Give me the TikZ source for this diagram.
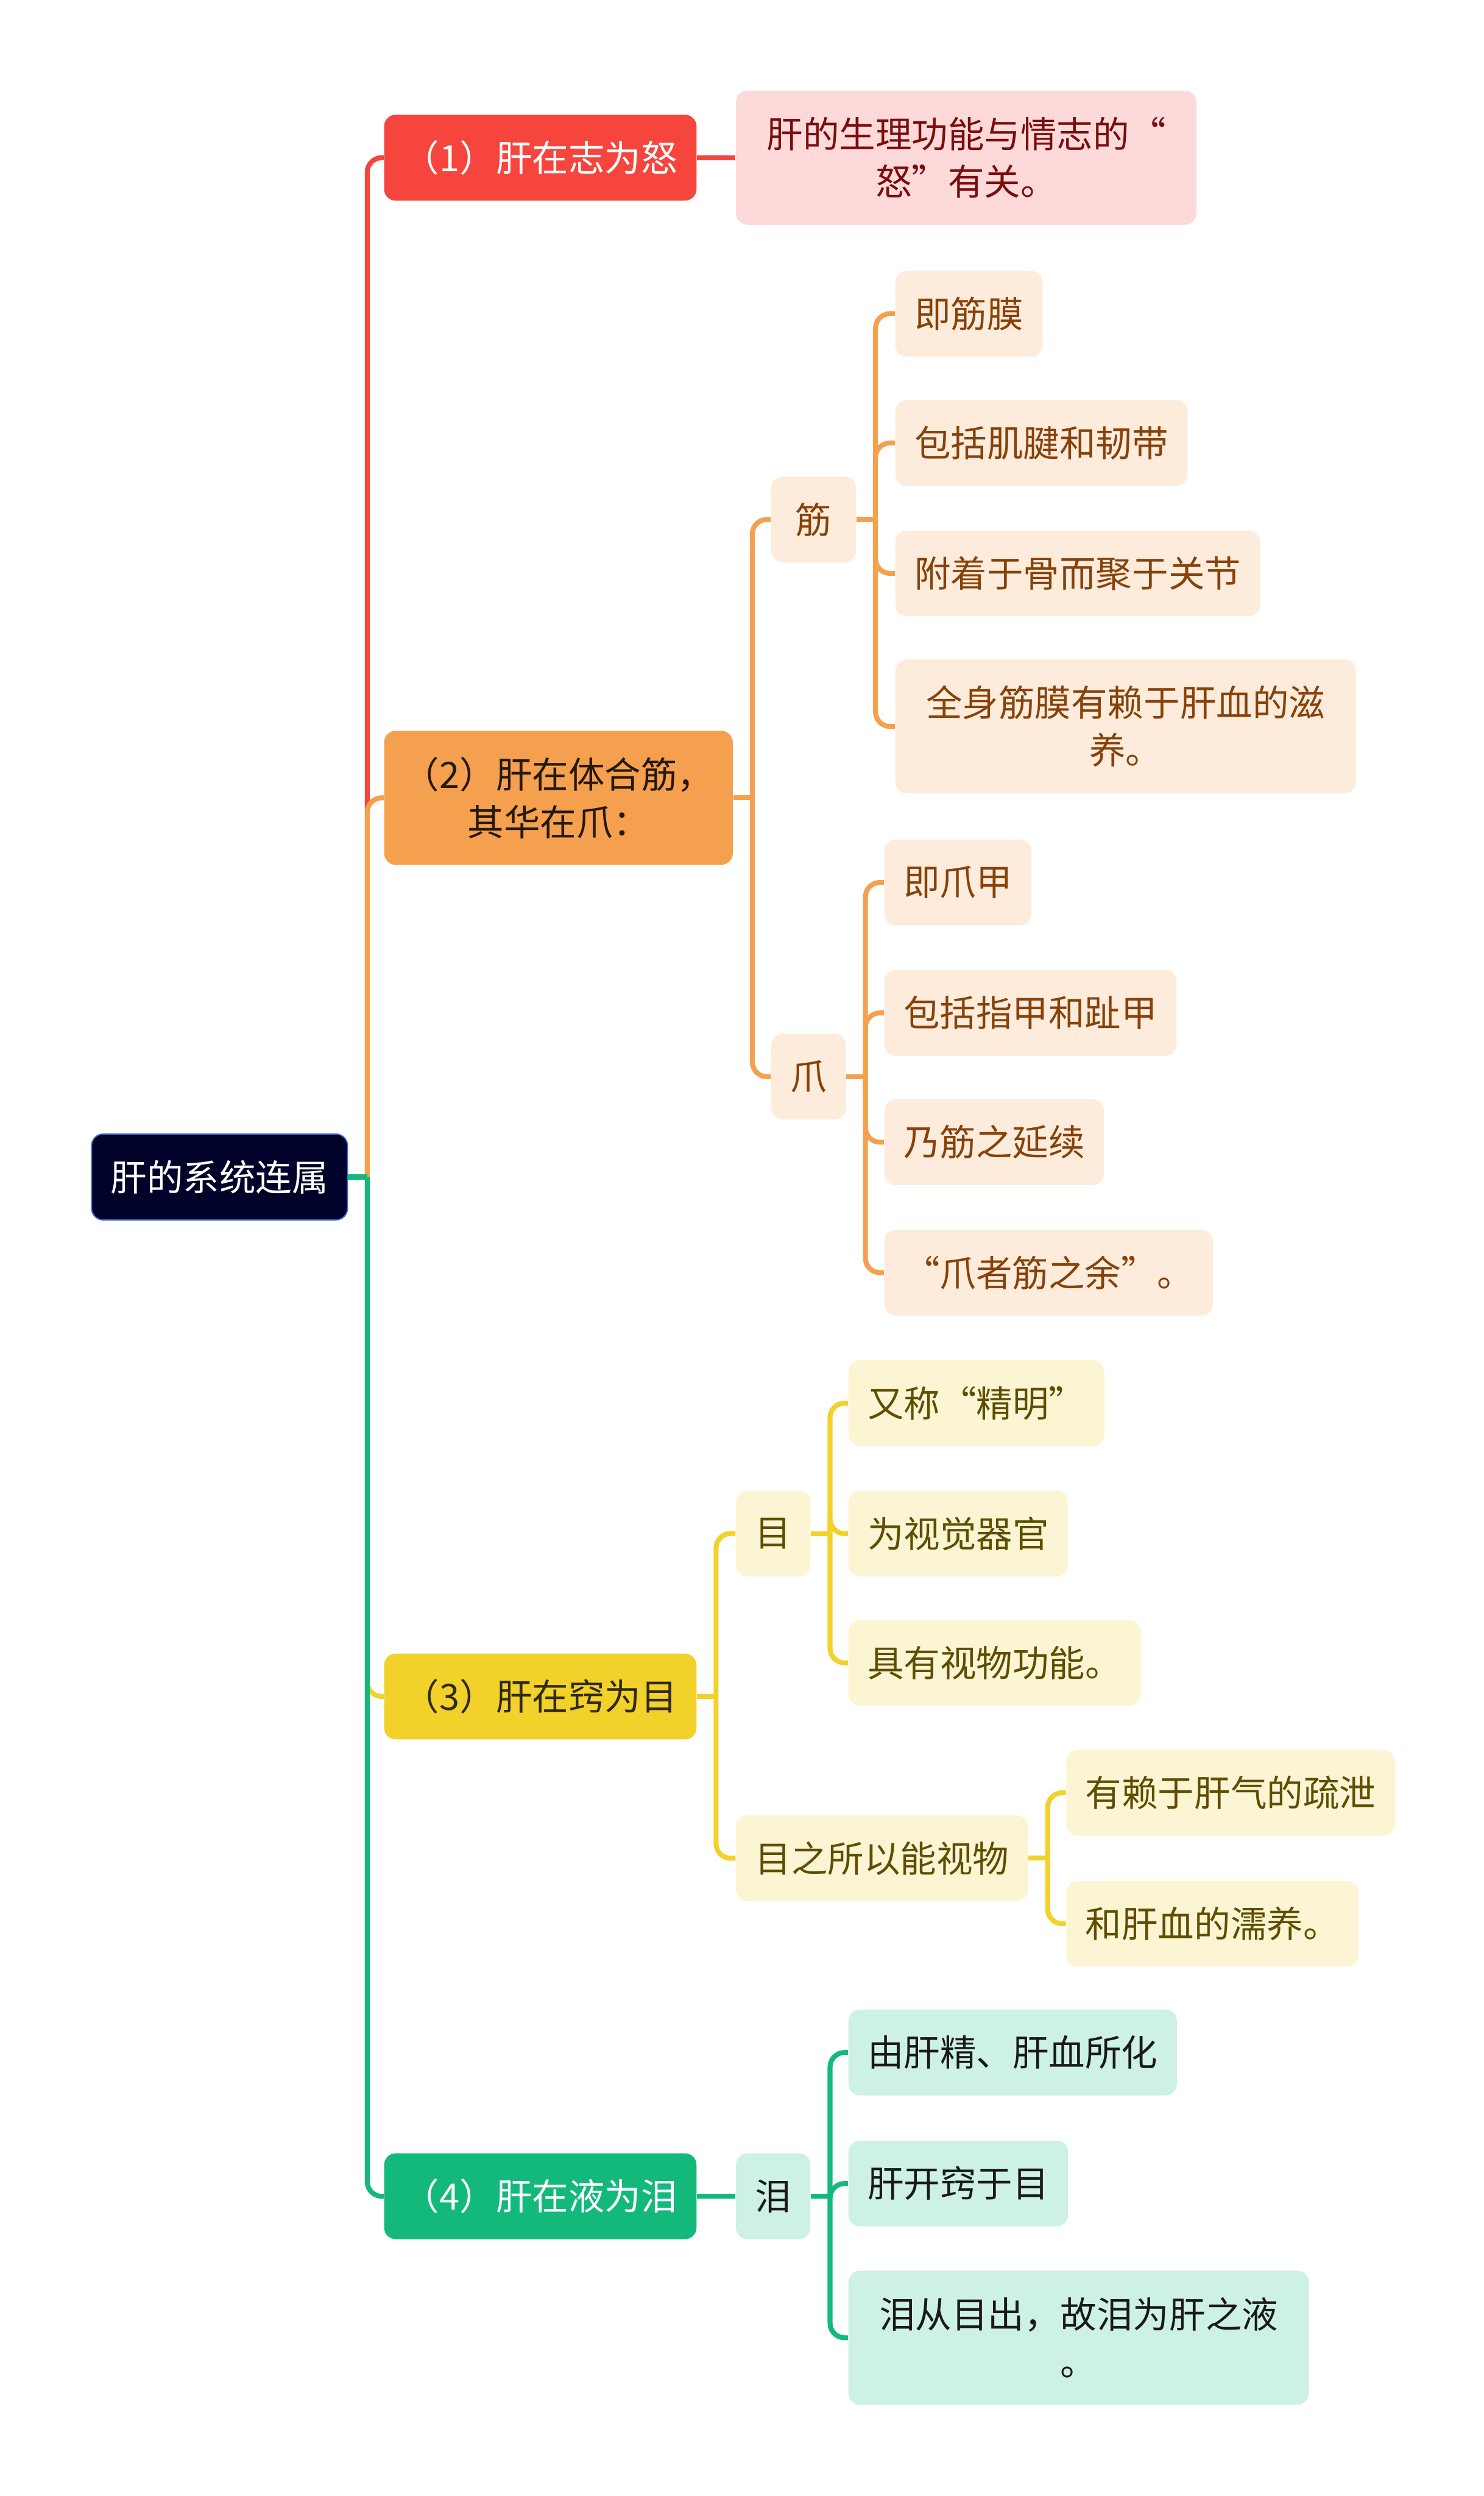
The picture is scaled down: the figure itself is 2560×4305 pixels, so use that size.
\documentclass[tikz,border=0pt]{standalone}
\usepackage{fontspec}
\setmainfont{Noto Sans CJK SC}
\usepackage{tikz}

\definecolor{rootnavy}{HTML}{000229}
\definecolor{rootblue}{HTML}{3A6FD0}
\definecolor{redmain}{HTML}{F5453D}
\definecolor{redleaf}{HTML}{FDD9D9}
\definecolor{redtext}{HTML}{7A0D0D}
\definecolor{orangemain}{HTML}{F4A04F}
\definecolor{orangeleaf}{HTML}{FDEBDB}
\definecolor{orangetext}{HTML}{87420A}
\definecolor{yellowmain}{HTML}{F2D12A}
\definecolor{yellowleaf}{HTML}{FCF5D4}
\definecolor{yellowtext}{HTML}{5E4E00}
\definecolor{greenmain}{HTML}{12B97B}
\definecolor{greenleaf}{HTML}{CDF1E2}

\begin{document}
\begin{tikzpicture}[x=0.01cm, y=-0.01cm,
  every node/.style={font=\fontsize{17.8pt}{23.3pt}\selectfont},
  box/.style={rectangle, rounded corners=0.2cm, anchor=west, align=center,
    inner xsep=0.33cm, inner ysep=0.1cm, minimum height=1.48cm},
  tall/.style={minimum height=2.31cm},
  wide/.style={tall, minimum width=7.94cm},
  rootbox/.style={box, fill=rootnavy, draw=rootblue, line width=0.02cm, text=white},
  redbox/.style={box, fill=redleaf, text=redtext},
  orangebox/.style={box, fill=orangeleaf, text=orangetext},
  yellowbox/.style={box, fill=yellowleaf, text=yellowtext},
  greenbox/.style={box, fill=greenleaf, text=black!90},
  link/.style={line width=0.085cm},
  elbow/.style={link, rounded corners=0.25cm}]
  \useasboundingbox (0,0) rectangle (2560,4305);

  % Root
  \node[rootbox] (root) at (157,2030) {肝的系统连属};

  % Main branches
  \node[box, fill=redmain, text=white] (n1) at (662,272) {（1）肝在志为怒};
  \node[box, tall, fill=orangemain, text=black!85!orangemain] (n2) at (662,1376) {（2）肝在体合筋，\\其华在爪：};
  \node[box, fill=yellowmain, text=black!80!yellowmain] (n3) at (662,2926) {（3）肝在窍为目};
  \node[box, fill=greenmain, text=white] (n4) at (662,3788) {（4）肝在液为泪};

  % (1)
  \node[redbox, wide] (nu) at (1269,272) {肝的生理功能与情志的“\\怒”有关。};

  % (2) jin and zhua
  \node[orangebox, minimum width=1.46cm] (jin) at (1330,896) {筋};
  \node[orangebox] (jin1) at (1544,541) {即筋膜};
  \node[orangebox] (jin2) at (1544,764) {包括肌腱和韧带};
  \node[orangebox] (jin3) at (1544,989) {附着于骨而聚于关节};
  \node[orangebox, wide] (jin4) at (1544,1253) {全身筋膜有赖于肝血的滋\\养。};

  \node[orangebox] (zhua) at (1330,1857) {爪};
  \node[orangebox] (zhua1) at (1525,1522) {即爪甲};
  \node[orangebox] (zhua2) at (1525,1747) {包括指甲和趾甲};
  \node[orangebox] (zhua3) at (1525,1970) {乃筋之延续};
  \node[orangebox] (zhua4) at (1525,2195) {“爪者筋之余”。};

  % (3) mu
  \node[yellowbox] (mu) at (1269,2645) {目};
  \node[yellowbox] (mu1) at (1463,2420) {又称“精明”};
  \node[yellowbox] (mu2) at (1463,2645) {为视觉器官};
  \node[yellowbox] (mu3) at (1463,2868) {具有视物功能。};

  \node[yellowbox] (why) at (1269,3205) {目之所以能视物};
  \node[yellowbox] (why1) at (1839,3092) {有赖于肝气的疏泄};
  \node[yellowbox] (why2) at (1839,3318) {和肝血的濡养。};

  % (4) lei
  \node[greenbox] (lei) at (1269,3788) {泪};
  \node[greenbox] (lei1) at (1463,3540) {由肝精、肝血所化};
  \node[greenbox] (lei2) at (1463,3766) {肝开窍于目};
  \node[greenbox, wide] (lei3) at (1463,4032) {泪从目出，故泪为肝之液\\。};

  % Connectors from the root
  \path (root.east) ++(33,0) coordinate (rootbus);
  \draw[elbow, redmain] (rootbus) |- (n1.west);
  \draw[elbow, orangemain] (rootbus) |- (n2.west);
  \draw[elbow, yellowmain] (rootbus) |- (n3.west);
  \draw[elbow, greenmain] (rootbus) |- (n4.west);
  \draw[link, greenmain] (root.east) -- (rootbus);

  % Connectors of (1)
  \draw[link, redmain] (n1.east) -- (nu.west);

  % Connectors of (2)
  \path (n2.east) ++(33,0) coordinate (n2bus);
  \draw[link, orangemain] (n2.east) -- (n2bus);
  \draw[elbow, orangemain] (n2bus) |- (jin.west);
  \draw[elbow, orangemain] (n2bus) |- (zhua.west);

  \path (jin.east) ++(33,0) coordinate (jinbus);
  \draw[link, orangemain] (jin.east) -- (jinbus);
  \draw[elbow, orangemain] (jinbus) |- (jin1.west);
  \draw[elbow, orangemain] (jinbus) |- (jin2.west);
  \draw[elbow, orangemain] (jinbus) |- (jin3.west);
  \draw[elbow, orangemain] (jinbus) |- (jin4.west);

  \path (zhua.east) ++(33,0) coordinate (zhuabus);
  \draw[link, orangemain] (zhua.east) -- (zhuabus);
  \draw[elbow, orangemain] (zhuabus) |- (zhua1.west);
  \draw[elbow, orangemain] (zhuabus) |- (zhua2.west);
  \draw[elbow, orangemain] (zhuabus) |- (zhua3.west);
  \draw[elbow, orangemain] (zhuabus) |- (zhua4.west);

  % Connectors of (3)
  \path (n3.east) ++(33,0) coordinate (n3bus);
  \draw[link, yellowmain] (n3.east) -- (n3bus);
  \draw[elbow, yellowmain] (n3bus) |- (mu.west);
  \draw[elbow, yellowmain] (n3bus) |- (why.west);

  \path (mu.east) ++(33,0) coordinate (mubus);
  \draw[link, yellowmain] (mu.east) -- (mubus);
  \draw[elbow, yellowmain] (mubus) |- (mu1.west);
  \draw[elbow, yellowmain] (mubus) |- (mu2.west);
  \draw[elbow, yellowmain] (mubus) |- (mu3.west);

  \path (why.east) ++(33,0) coordinate (whybus);
  \draw[link, yellowmain] (why.east) -- (whybus);
  \draw[elbow, yellowmain] (whybus) |- (why1.west);
  \draw[elbow, yellowmain] (whybus) |- (why2.west);

  % Connectors of (4)
  \draw[link, greenmain] (n4.east) -- (lei.west);
  \path (lei.east) ++(33,0) coordinate (leibus);
  \draw[link, greenmain] (lei.east) -- (leibus);
  \draw[elbow, greenmain] (leibus) |- (lei1.west);
  \draw[elbow, greenmain] (leibus) |- (lei2.west);
  \draw[elbow, greenmain] (leibus) |- (lei3.west);
\end{tikzpicture}
\end{document}
